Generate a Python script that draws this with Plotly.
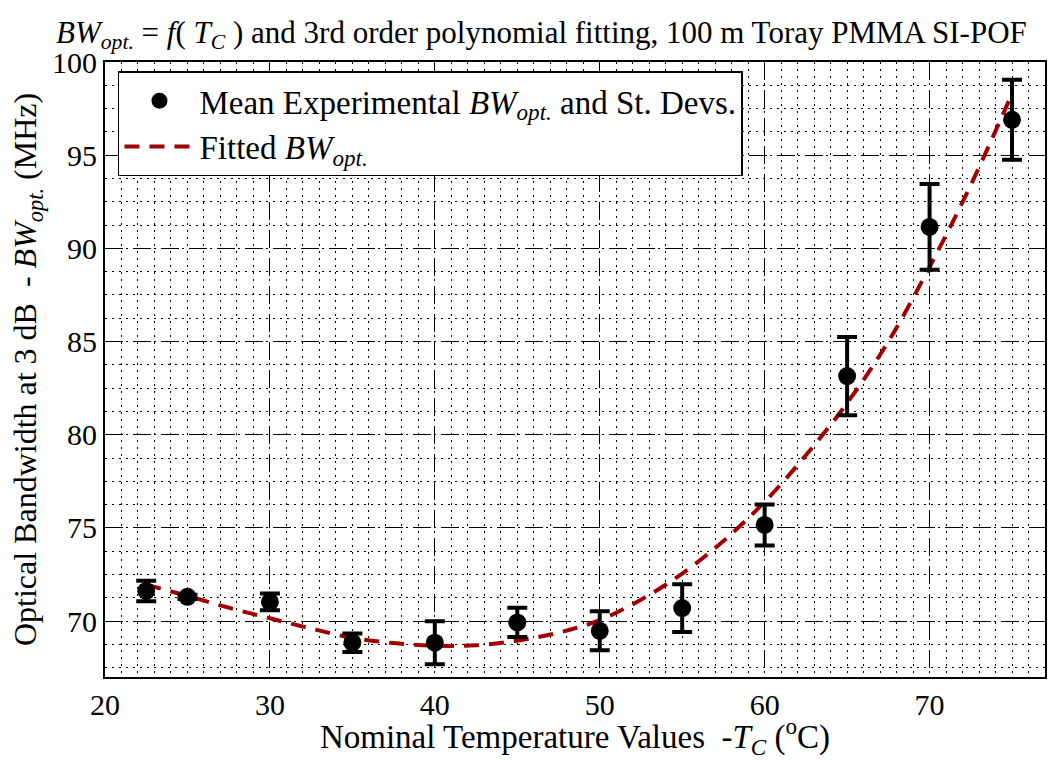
import plotly.graph_objects as go

# Experimental data
temps = [22.5, 25, 30, 35, 40, 45, 50, 55, 60, 65, 70, 75]
bw_mean = [71.62, 71.30, 71.03, 68.84, 68.84, 69.93, 69.48, 70.70, 75.16, 83.15, 91.15, 96.90]
bw_std = [0.55, 0.12, 0.45, 0.50, 1.15, 0.78, 1.05, 1.28, 1.10, 2.10, 2.30, 2.15]

# Fitted curve
fit_x = [22.5, 25, 27.5, 30, 32.5, 35, 37.5, 40, 42.5, 45, 47.5, 50, 52.5, 55, 57.5, 60,
         62.5, 65, 67.5, 70, 72.5, 75]
fit_y = [71.95, 71.35, 70.72, 70.15, 69.6, 69.1, 68.82, 68.68, 68.7, 68.95, 69.38, 70.05,
         71.15, 72.55, 74.3, 76.4, 78.9, 81.7, 85.0, 89.0, 93.4, 98.3]

x_ticks = [20, 30, 40, 50, 60, 70]
y_ticks = [70, 75, 80, 85, 90, 95, 100]

FONT = "'Liberation Serif', 'Times New Roman', serif"
BW = "<i>BW</i><sub><i>opt.</i></sub>"

fig = go.Figure()

fig.add_trace(go.Scatter(
    x=fit_x, y=fit_y, mode="lines", name="Fitted " + BW,
    line=dict(color="#A00000", width=4, dash="15px,10px", shape="spline"),
    legendrank=2,
))

fig.add_trace(go.Scatter(
    x=temps, y=bw_mean, mode="markers",
    name="Mean Experimental " + BW + " and St. Devs.",
    marker=dict(color="black", size=18, symbol="circle"),
    error_y=dict(type="data", array=bw_std, visible=True, color="black",
                 thickness=4, width=10),
    legendrank=1,
))

grid_major = dict(showgrid=True, gridcolor="black", gridwidth=1, griddash="18px,10px")

fig.update_layout(
    width=1056, height=760,
    margin=dict(l=105, r=9, t=62, b=83),
    paper_bgcolor="white", plot_bgcolor="white",
    font=dict(family=FONT, size=30, color="black"),
    title=dict(
        text=BW + " = <i>f</i>( <i>T</i><sub><i>C</i></sub> ) and 3rd order polynomial fitting, 100 m Toray PMMA SI-POF",
        font=dict(family=FONT, size=31, color="black"),
        xref="container", x=0.053, xanchor="left",
        yref="container", y=0.958, yanchor="middle",
    ),
    showlegend=True,
    legend=dict(
        x=0.0138, y=0.985, xanchor="left", yanchor="top",
        bgcolor="white", bordercolor="black", borderwidth=1.5,
        font=dict(family=FONT, size=33, color="black"),
        itemwidth=70, tracegroupgap=0,
    ),
    xaxis=dict(
        range=[20, 77], tickvals=x_ticks, ticktext=[str(v) for v in x_ticks],
        showline=True, linecolor="black", linewidth=2, mirror=True,
        ticks="", zeroline=False,
        tickfont=dict(family=FONT, size=30),
        title=dict(text="Nominal Temperature Values  -<i>T</i><sub><i>C</i></sub> (<sup>o</sup>C)",
                   font=dict(family=FONT, size=33), standoff=0),
        minor=dict(dtick=1, tick0=0, showgrid=True, gridcolor="black", gridwidth=1,
                   griddash="2px,5px", ticks=""),
        **grid_major,
    ),
    yaxis=dict(
        range=[67, 100], tickvals=y_ticks, ticktext=[str(v) for v in y_ticks],
        showline=True, linecolor="black", linewidth=2, mirror=True,
        ticks="", zeroline=False,
        tickfont=dict(family=FONT, size=30),
        title=dict(text="Optical Bandwidth at 3 dB  - " + BW + " (MHz)",
                   font=dict(family=FONT, size=32), standoff=6),
        minor=dict(dtick=1.25, tick0=0, showgrid=True, gridcolor="black", gridwidth=1,
                   griddash="2px,5px", ticks=""),
        **grid_major,
    ),
)

fig.write_html("out.html")
